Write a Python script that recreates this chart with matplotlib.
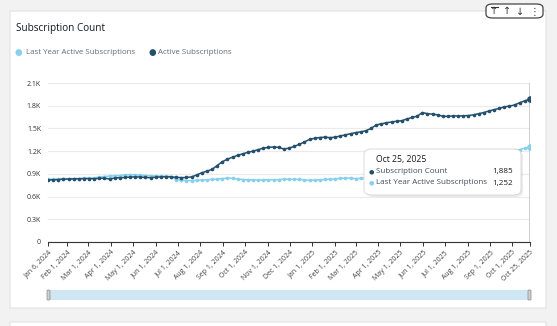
import datetime as dt

import matplotlib

matplotlib.use("Agg")
import matplotlib.dates as mdates
import matplotlib.pyplot as plt
from matplotlib.patches import FancyBboxPatch

plt.rcParams["font.family"] = ["Open Sans", "DejaVu Sans"]

W, H = 557, 326

# weekly snapshots, every Saturday from Jan 6, 2024 to Oct 25, 2025
start = dt.date(2024, 1, 6)
weeks = [start + dt.timedelta(weeks=i) for i in range(95)]

active = [
    820, 822, 825, 830, 832, 833, 835, 838, 838, 836,
    840, 842, 832, 845, 850, 852, 858, 860, 858, 852,
    850, 855, 860, 862, 860, 855, 850, 852, 860, 885,
    915, 935, 960, 1010, 1060, 1095, 1120, 1145, 1165, 1185,
    1200, 1220, 1240, 1250, 1255, 1250, 1228, 1240, 1262, 1290,
    1320, 1355, 1370, 1380, 1385, 1378, 1385, 1400, 1415, 1430,
    1445, 1455, 1470, 1500, 1545, 1560, 1575, 1585, 1595, 1602,
    1625, 1645, 1662, 1710, 1695, 1688, 1680, 1660, 1660, 1665,
    1665, 1667, 1670, 1680, 1695, 1710, 1730, 1748, 1765, 1785,
    1795, 1810, 1840, 1865, 1885,
]
last_year = [
    830, 828, 830, 832, 835, 838, 838, 840, 842, 845,
    860, 865, 870, 875, 878, 885, 890, 888, 880, 878,
    875, 872, 870, 870, 865, 825, 818, 812, 810, 815,
    818, 822, 826, 830, 838, 845, 840, 832, 825, 822,
    820, 818, 820, 822, 820, 825, 828, 830, 828, 826,
    820, 815, 818, 822, 826, 830, 835, 840, 845, 842,
    838, 840, 842, 850, 855, 858, 860, 858, 855, 852,
    850, 855, 860, 862, 860, 855, 850, 852, 860, 885,
    915, 935, 960, 1010, 1060, 1095, 1120, 1145, 1165, 1185,
    1200, 1210, 1220, 1240, 1252,
]

tick_dates = [dt.date(2024, 1, 6)] + [dt.date(2024, m, 1) for m in range(2, 13)] \
    + [dt.date(2025, m, 1) for m in range(1, 11)] + [dt.date(2025, 10, 25)]
tick_labels = [f"{d.strftime('%b')} {d.day}, {d.year}" for d in tick_dates]
y_ticks = [0, 300, 600, 900, 1200, 1500, 1800, 2100]
y_labels = ["0", "0.3K", "0.6K", "0.9K", "1.2K", "1.5K", "1.8K", "2.1K"]

DARK = "#24506e"
LIGHT = "#86d0ee"


def fx(x):
    return x / W


def fy(y):
    return 1 - y / H


def box(x0, y0, x1, y1, fc, ec="none", pad=0.0, lw=0.8, z=-5, alpha=1.0, r=0.0):
    p = FancyBboxPatch((fx(x0), fy(y1)), fx(x1 - x0), (y1 - y0) / H,
                       boxstyle=f"round,pad={pad},rounding_size={r}",
                       transform=fig.transFigure, fc=fc, ec=ec, lw=lw,
                       zorder=z, alpha=alpha)
    fig.patches.append(p)


def hline(x0, x1, y, color, lw, z=6):
    fig.lines.append(plt.Line2D([fx(x0), fx(x1)], [fy(y), fy(y)],
                                transform=fig.transFigure, color=color, lw=lw, zorder=z))


fig = plt.figure(figsize=(W / 100, H / 100), dpi=100, facecolor="#f2f2f2")

# cards
box(10, 11, 546, 308, "white", ec="#e2e2e2", z=-10)
box(10, 322, 546, 340, "white", ec="#e2e2e2", z=-10)

fig.text(fx(16), fy(28), "Subscription Count", fontsize=7.2, color="#16191f",
         va="center", ha="left")

# legend
fig.text(fx(18), fy(52), "●", fontsize=6.2, color=LIGHT, va="center", ha="center")
fig.text(fx(26), fy(52), "Last Year Active Subscriptions", fontsize=5.7,
         color="#5f6b7a", va="center")
fig.text(fx(152), fy(52), "●", fontsize=6.2, color=DARK, va="center", ha="center")
fig.text(fx(158), fy(52), "Active Subscriptions", fontsize=5.7,
         color="#5f6b7a", va="center")

# toolbar: scroll-to-top / up / down / menu
box(486, 4, 543, 18, "white", ec="#444", lw=0.9, z=5, r=0.012)
for xi, s in [(494, "↑"), (507, "↑"), (520, "↓"), (535, "⋮")]:
    fig.text(fx(xi), fy(11.5), s, fontsize=7, color="#333", va="center", ha="center",
             family=["DejaVu Sans"], zorder=6)
hline(490.5, 497.5, 6.5, "#333", 0.8)
fig.lines.append(plt.Line2D([fx(528), fx(528)], [fy(6), fy(16)],
                            transform=fig.transFigure, color="#bbb", lw=0.6))

ax = fig.add_axes([fx(48), fy(242), fx(530) - fx(48), (242 - 83) / H])
ax.set_facecolor("none")
ax.plot(weeks, last_year, color=LIGHT, lw=1.1, marker="o", ms=1.6, zorder=3)
ax.plot(weeks, active, color=DARK, lw=1.1, marker="o", ms=1.6, zorder=4)
ax.plot(weeks[-1], last_year[-1], "o", color=LIGHT, ms=3.8, zorder=5)
ax.plot(weeks[-1], active[-1], "o", color=DARK, ms=3.8, zorder=5)
ax.axvline(weeks[-1], color="#c8c8c8", lw=1.2, zorder=2)

ax.set_xlim(weeks[0], weeks[-1])
ax.set_ylim(0, 2100)
ax.set_yticks(y_ticks)
ax.set_yticklabels(y_labels)
ax.set_xticks([mdates.date2num(d) for d in tick_dates])
ax.set_xticklabels(tick_labels, rotation=45, ha="right", rotation_mode="anchor")
ax.tick_params(axis="y", length=0, labelsize=5.0, labelcolor="#333", pad=5)
ax.tick_params(axis="x", length=3, width=0.7, color="#333", labelsize=5.0,
               labelcolor="#444", pad=2)
ax.grid(axis="y", color="#ebebeb", lw=0.8)
for side in ["top", "right", "left"]:
    ax.spines[side].set_visible(False)
ax.spines["bottom"].set_color("#333")
ax.spines["bottom"].set_linewidth(0.8)

# range slider
box(48, 290, 530, 300, "#cfe7f4", z=1)
box(47, 290, 50, 300, "#d0d0d0", ec="#888", lw=0.5, z=2, r=0.002)
box(528, 290, 531, 300, "#d0d0d0", ec="#888", lw=0.5, z=2, r=0.002)

# hover tooltip
box(366, 151, 523, 197, "#000000", z=8, alpha=0.08, r=0.015)
box(364, 149, 521, 195, "white", ec="#d5d5d5", lw=0.6, z=9, r=0.015)
fig.text(fx(376), fy(159), "Oct 25, 2025", fontsize=6.2, color="#16191f",
         va="center", zorder=10)
rows = [("Subscription Count", f"{active[-1]:,}", DARK),
        ("Last Year Active Subscriptions", f"{last_year[-1]:,}", LIGHT)]
for i, (lab, val, col) in enumerate(rows):
    yy = 172 + 11 * i
    fig.text(fx(371), fy(yy), "●", fontsize=4.5, color=col, va="center",
             ha="center", zorder=10)
    fig.text(fx(376), fy(yy), lab, fontsize=5.8, color="#414d5c", va="center", zorder=10)
    fig.text(fx(513), fy(yy), val, fontsize=5.8, color="#16191f", va="center",
             ha="right", zorder=10)

fig.savefig("out.png", dpi=100, facecolor=fig.get_facecolor())
